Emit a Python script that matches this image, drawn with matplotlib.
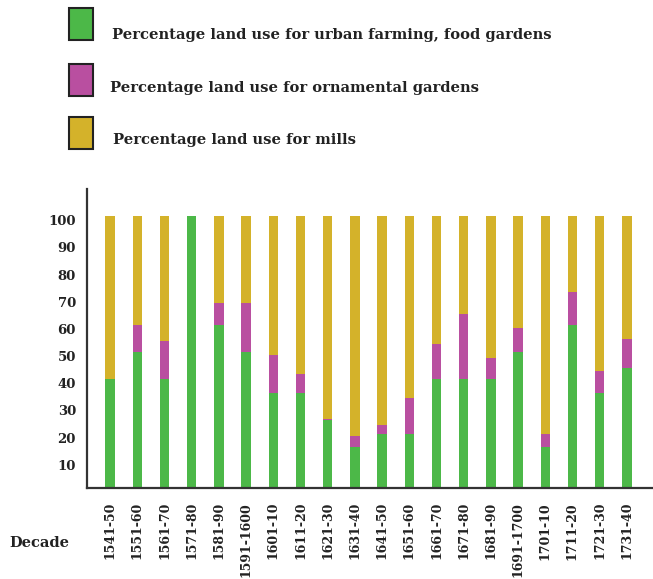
import matplotlib
matplotlib.use("Agg")
import matplotlib.pyplot as plt
import matplotlib.transforms as mtransforms
from matplotlib.patches import Rectangle
import numpy as np

# Decades and percentage land use
decades = ["1541-50", "1551-60", "1561-70", "1571-80", "1581-90", "1591-1600",
           "1601-10", "1611-20", "1621-30", "1631-40", "1641-50", "1651-60",
           "1661-70", "1671-80", "1681-90", "1691-1700", "1701-10", "1711-20",
           "1721-30", "1731-40"]
farming = [40, 50, 40, 100, 60, 50, 35, 35, 25, 15, 20, 20, 40, 40, 40, 50, 15, 60, 35, 44]
ornamental = [0, 10, 14, 0, 8, 18, 14, 7, 0.5, 4, 3, 13, 13, 24, 8, 9, 5, 12, 8, 11]
mills = [100 - f - o for f, o in zip(farming, ornamental)]

legend_labels = ["Percentage land use for urban farming, food gardens",
                 "Percentage land use for ornamental gardens",
                 "Percentage land use for mills"]
colors = ["#4cb848", "#b94fa0", "#d4b22a"]

plt.rcParams["font.family"] = ["DejaVu Serif"]

W, H = 653, 579
fig = plt.figure(figsize=(W / 100, H / 100), dpi=100)
ax = fig.add_axes([87 / W, 1 - 488 / H, (653 - 87) / W, (488 - 189) / H])

x = np.arange(len(decades))
w = 0.34
ax.bar(x, farming, w, color=colors[0])
ax.bar(x, ornamental, w, bottom=farming, color=colors[1])
ax.bar(x, mills, w, bottom=np.array(farming) + np.array(ornamental), color=colors[2])

ax.set_xlim(-0.85, len(decades) - 0.04)
ax.set_ylim(0, 110)
ax.set_yticks(range(10, 101, 10))
ax.set_yticklabels([str(v) for v in range(10, 101, 10)], fontsize=9.5, fontweight="bold", color="#222")
ax.set_xticks(x)
ax.set_xticklabels(decades, rotation=90, fontsize=9, fontweight="bold", color="#222")
ax.tick_params(axis="both", length=0)
ax.tick_params(axis="y", pad=8)
ax.tick_params(axis="x", pad=10)
# y labels sit a little below their gridline in the original
shift = mtransforms.ScaledTranslation(0, -4 / 100, fig.dpi_scale_trans)
for lab in ax.get_yticklabels():
    lab.set_transform(lab.get_transform() + shift)
for s in ["top", "right"]:
    ax.spines[s].set_visible(False)
for s in ["left", "bottom"]:
    ax.spines[s].set_color("#333")
    ax.spines[s].set_linewidth(1.6)

fig.text(9 / W, 1 - 543 / H, "Decade", fontsize=10.5, fontweight="bold", color="#222", va="center")

# legend drawn by hand
box_tops = [8, 64, 117]
text_y = [35, 88, 140]
text_x = [112, 110, 113]
for top, ty, tx, c, lab in zip(box_tops, text_y, text_x, colors, legend_labels):
    fig.patches.append(Rectangle((69 / W, 1 - (top + 32) / H), 24 / W, 32 / H,
                                 transform=fig.transFigure, facecolor=c,
                                 edgecolor="#222", linewidth=1.5))
    fig.text(tx / W, 1 - ty / H, lab, fontsize=10.6, fontweight="bold", color="#222", va="center")

fig.savefig("out.png", dpi=100)
